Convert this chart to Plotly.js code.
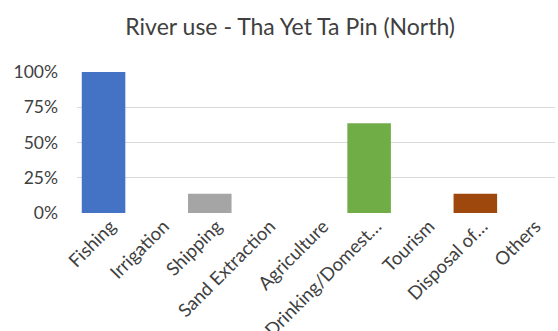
<!DOCTYPE html>
<html><head><meta charset="utf-8">
<script src="https://cdn.plot.ly/plotly-3.0.1.min.js"></script>
<style>html,body{margin:0;padding:0;background:#fff;}#chart{width:558px;height:331px;}</style>
</head><body><div id="chart"></div>
<script>
const categories = ["Fishing","Irrigation","Shipping","Sand Extraction","Agriculture","Drinking/Domest…","Tourism","Disposal of…","Others"];
const values = [1.00, 0, 0.136, 0, 0, 0.636, 0, 0.136, 0];
const barColors = ["#4472C4","#ED7D31","#A5A5A5","#FFC000","#5B9BD5","#70AD47","#264478","#9E480E","#636363"];
const yTicks = [0, 0.25, 0.5, 0.75, 1];
const yTickText = ["0%","25%","50%","75%","100%"];

Plotly.newPlot('chart', [{
  type: 'bar', x: categories, y: values,
  marker: {color: barColors},
  hoverinfo: 'x+y'
}], {
  width: 558, height: 331,
  margin: {l: 77, r: 3, t: 72, b: 118},
  title: {text: 'River use - Tha Yet Ta Pin (North)', font: {family: 'Lato, sans-serif', size: 23, color: '#404040'}, x: 0.52, xanchor: 'center', y: 0.92, yanchor: 'middle'},
  bargap: 0.18,
  xaxis: {tickangle: -45, tickfont: {family: 'Lato, sans-serif', size: 18.5, color: '#404040'}, showline: false, ticks: '', automargin: false, ticklabelstandoff: -2, ticklabelshift: 7},
  yaxis: {range: [0, 1], tickvals: yTicks, ticktext: yTickText, gridcolor: '#d9d9d9', zeroline: false, showline: false, ticks: '', tickfont: {family: 'Lato, sans-serif', size: 17.5, color: '#404040'}, automargin: false, ticklabelstandoff: 18},
  showlegend: false,
  paper_bgcolor: '#fff', plot_bgcolor: '#fff'
}, {displayModeBar: false, staticPlot: true});
</script></body></html>
